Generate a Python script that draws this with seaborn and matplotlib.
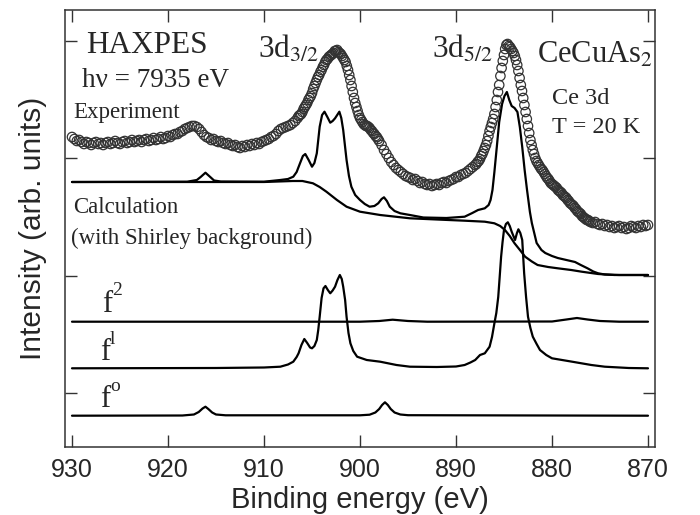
import numpy as np
import pandas as pd
import matplotlib
matplotlib.use("Agg")
import matplotlib.pyplot as plt
import seaborn as sns

# ---------------- data (binding energy in eV, intensity in arb. units) ----------------
# Experiment: 0.25 eV sampling, 0.125 eV on the steep peak flanks
exp_energy = np.concatenate([
    np.linspace(930.0, 906.5, 95),
    np.linspace(906.375, 898.0, 68),
    np.linspace(897.75, 888.0, 40),
    np.linspace(887.875, 876.0, 96),
    np.linspace(875.75, 870.0, 24),
])
exp_intensity = [
    # 930.00 -> 906.50
    310, 308, 306, 307, 305, 303, 305, 304, 302, 304, 305, 303, 304, 302, 304, 305, 303, 304, 306, 304,
    303, 305, 306, 304, 305, 307, 305, 306, 307, 305, 307, 308, 306, 307, 309, 307, 308, 310, 308, 309,
    311, 310, 312, 313, 313, 315, 316, 318, 319, 320, 321, 321, 320, 318, 315, 312, 310, 309, 307, 308,
    306, 305, 306, 304, 303, 304, 302, 301, 302, 300, 299, 301, 300, 302, 301, 303, 302, 304, 303, 305,
    306, 307, 308, 310, 311, 313, 316, 318, 319, 320, 321, 322, 324, 326, 329,
    # 906.375 -> 898.0
    331, 332, 333, 335, 338, 340, 342, 344, 347, 349, 351, 354, 358, 361, 364, 367, 370, 372, 375, 377,
    380, 382, 385, 387, 388, 390, 391, 392, 393, 394, 396, 396, 397, 395, 394, 393, 391, 389, 387, 385,
    381, 377, 372, 367, 361, 355, 349, 344, 340, 336, 332, 329, 327, 325, 323, 322, 321, 321, 320, 319,
    317, 316, 314, 313, 311, 310, 308, 306,
    # 897.75 -> 888.0
    302, 297, 293, 289, 285, 282, 279, 277, 275, 273, 271,
    270, 269, 267, 268, 266, 264, 265, 263, 262, 263, 261, 262, 263, 262, 264, 265, 264, 266, 267, 268,
    270, 270, 272, 273, 274, 276, 278, 280, 282,
    # 887.875 -> 876.0
    283, 285, 286, 288, 291, 293, 296, 299, 302, 306, 311, 316, 320, 324, 328, 333, 340, 347, 355, 362,
    371, 379, 386, 392, 398, 402, 403, 401, 400, 398, 396, 394, 391, 387, 382, 376, 369, 362, 356, 349,
    342, 335, 328, 321, 314, 307, 302, 297, 293, 289, 286, 284, 282, 280, 278, 277, 275, 273, 271, 269,
    268, 266, 264, 263, 262, 261, 260, 259, 257, 256, 255, 254, 252, 251, 250, 249, 247, 246, 244, 243,
    242, 241, 239, 238, 236, 235, 234, 233, 231, 230, 229, 228, 227, 227, 226, 225,
    # 875.75 -> 870.0
    224, 225, 223, 222, 223, 221, 222, 220, 221, 219, 220, 221, 219, 220, 218, 219, 221, 220, 219, 221,
    220, 222, 221, 222,
]

# Calculation (total, with Shirley background)
calc_energy = [930, 918, 917.0, 916.6, 916.1, 915.6, 915.2, 914.5, 910, 908.3, 907.5, 906.95, 906.6,
               906.25, 905.95, 905.7, 905.35, 905.0, 904.75, 904.5, 904.35, 904.2, 903.95, 903.7,
               903.4, 903.1, 902.85, 902.6, 902.15, 901.95, 901.75, 901.4, 901.15, 900.9, 900.5,
               900.0, 899.5, 899.0, 898.5, 898.1, 897.75, 897.5, 897.2, 896.9, 896.4, 895.8, 894.8,
               893.4, 891, 889.1, 888.3, 887.7, 887.0, 886.6, 886.4, 886.2, 886.0, 885.8, 885.5,
               885.2, 884.95, 884.7, 884.45, 884.2, 883.9, 883.6, 883.35, 883.1, 882.85, 882.6,
               882.3, 882.1, 881.6, 881.1, 880.7, 880.0, 879.4, 878.5, 877.6, 877.0, 876.3, 875.7,
               875.2, 874.5, 873, 870]
calc_intensity = [265, 265.3, 267, 270, 274.3, 270, 266.5, 265.5, 265.3, 267, 268, 270.3, 275,
                  283.7, 291, 293, 287, 280.3, 284, 293.7, 307, 320.3, 332, 335.3,
                  330, 324.3, 326, 328.7, 335.3, 329, 317, 287, 271, 260.3, 252,
                  247, 243, 240.3, 241, 243.7, 248, 249.7, 246, 240.3, 236, 233.7, 232,
                  229.5, 229, 230.3, 234, 237, 238.7, 242, 247, 257, 275, 295, 325,
                  343, 351, 355, 347, 341, 339, 335, 320, 300, 277, 257,
                  235, 224, 204, 197, 194, 191, 189, 187, 185, 182, 178.7, 175.5,
                  173.7, 172.5, 172, 172]

# Shirley background
shirley_energy = [930, 910, 907, 906, 904.9, 904.2, 903.5, 902.4, 901.4, 900.0, 897.9, 894.8, 892,
                  889.1, 887.0, 886.0, 885.4, 884.9, 884.4, 883.9, 883.3, 882.8, 882.1, 881.5,
                  880.4, 879.4, 878.0, 876.9, 875.2, 873.5, 870]
shirley_intensity = [265, 265, 266, 266, 263.7, 260, 255.3, 247, 240.3, 235.3, 232, 228.7, 227.5,
                     226.3, 225.3, 223.7, 221, 217, 211, 203.7, 196.5, 190.3, 185.5, 182,
                     180, 178.7, 177, 175.3, 173, 172, 172]

# f^2 component
f2_energy = [930, 900, 898, 896.6, 895, 893, 880, 878.5, 877.4, 876.3, 875, 873, 870]
f2_intensity = [125.3, 125.3, 126, 127.3, 126, 125.3, 125.5, 127.5, 129, 127.5, 126, 125.3, 125.3]

# f^1 component
f1_energy = [930, 915, 910, 908.3, 907.5, 906.95, 906.6, 906.4, 906.1, 905.8, 905.5, 905.2, 905.0,
             904.75, 904.5, 904.35, 904.2, 904.0, 903.8, 903.6, 903.35, 903.1, 902.85, 902.6,
             902.35, 902.1, 901.9, 901.75, 901.55, 901.4, 901.2, 901.0, 900.7, 900.3, 899.3,
             897.9, 896.2, 894.8, 892, 890, 889.1, 888.5, 888.0, 887.5, 887.0, 886.5, 886.25,
             886.0, 885.8, 885.6, 885.45, 885.3, 885.15, 885.0, 884.8, 884.6, 884.4, 884.2,
             883.85, 883.65, 883.5, 883.3, 883.1, 882.9, 882.7, 882.5, 882.25, 882.0, 881.6,
             881.25, 880.6, 880.0, 877.9, 875.9, 874.5, 872, 870]
f1_intensity = [78.7, 79, 79.5, 80.3, 82.5, 85.3, 90, 93.7, 102, 108, 104, 99.5, 98.7,
                101, 107, 117, 130.3, 149, 158.7, 161, 157, 153.7, 156.5, 160.3,
                167, 172, 168, 160.3, 147, 130.3, 114, 103.7, 96, 90.3, 87,
                85.3, 82, 80.3, 80, 80.5, 82, 84.5, 87, 92, 93.7, 100.3, 110,
                123.7, 134, 150, 170, 190.3, 205, 217, 223, 224.7, 221, 215.3,
                207, 214, 217.7, 214, 207, 173.7, 150, 130.3, 119, 110.3, 103,
                97, 92, 88.7, 85.3, 82, 80.3, 79, 78.7]

# f^0 component
f0_energy = [930, 918.5, 917.3, 916.8, 916.4, 916.1, 915.8, 915.4, 915.0, 914, 900, 899, 898.4,
             898.0, 897.7, 897.4, 897.1, 896.8, 896.4, 895.8, 895, 880, 870]
f0_intensity = [31.3, 31.5, 32.5, 35, 38.5, 40.3, 38, 34.5, 32.5, 31.7, 31.7, 32.3, 34.5,
                38, 42, 44.7, 42, 38, 34.5, 32.5, 31.8, 31.5, 31.3]

x_ticks = [930, 920, 910, 900, 890, 880, 870]
y_ticks = [54, 171.5, 289, 406]

# ---------------- plotting ----------------
sns.set_theme(style="ticks")
plt.rcParams["font.family"] = ["Liberation Sans", "DejaVu Sans"]
plt.rcParams["mathtext.fontset"] = "stix"

fig = plt.figure(figsize=(7.0, 5.15), dpi=100)
ax = fig.add_axes([65 / 700, 1 - 447 / 515, 590 / 700, 437 / 515])

exp_df = pd.DataFrame({"energy": exp_energy, "intensity": exp_intensity})
sns.scatterplot(data=exp_df, x="energy", y="intensity", ax=ax, marker="o", s=46,
                facecolors="none", edgecolors="#333333", linewidths=0.9, legend=False, zorder=3)

lw = 1.6
for e, i in [(calc_energy, calc_intensity), (shirley_energy, shirley_intensity),
             (f2_energy, f2_intensity), (f1_energy, f1_intensity), (f0_energy, f0_intensity)]:
    df = pd.DataFrame({"energy": e, "intensity": i})
    sns.lineplot(data=df, x="energy", y="intensity", ax=ax, color="black", lw=lw,
                 sort=False, estimator=None, legend=False)

ax.set_xlim(930.73, 869.27)
ax.set_ylim(0, 437)
ax.set_xticks(x_ticks)
ax.set_yticks(y_ticks)
ax.set_yticklabels([])
ax.tick_params(axis="both", direction="in", length=8.5, width=1.0, color="#333333",
               top=True, right=True, labelsize=18, pad=8)
for sp in ax.spines.values():
    sp.set_color("#333333")
    sp.set_linewidth(1.1)

ax.set_xlabel("Binding energy (eV)", fontsize=21, labelpad=3)
ax.set_ylabel("Intensity (arb. units)", fontsize=21.5, labelpad=5)

serif = ["Liberation Serif", "DejaVu Serif"]
ax.text(928.54, 394, "HAXPES", family=serif, fontsize=22.5, ha="left", va="baseline")
ax.text(928.93, 359.7, "h\u03bd = 7935 eV", family=serif, fontsize=19.5, ha="left", va="baseline")
ax.text(910.6, 389, r"3d$_{3/2}$", family=serif, fontsize=22.5, ha="left", va="baseline")
ax.text(892.5, 389, r"3d$_{5/2}$", family=serif, fontsize=22.5, ha="left", va="baseline")
ax.text(881.56, 384, r"CeCuAs$_{2}$", family=serif, fontsize=22, ha="left", va="baseline")
ax.text(880.0, 343, "Ce 3d", family=serif, fontsize=17.5, ha="left", va="baseline")
ax.text(880.0, 314, "T = 20 K", family=serif, fontsize=17.5, ha="left", va="baseline")
ax.text(929.9, 329, "Experiment", family=serif, fontsize=16.5, ha="left", va="baseline")
ax.text(929.9, 234, "Calculation", family=serif, fontsize=16.5, ha="left", va="baseline")
ax.text(930.1, 203, "(with Shirley background)", family=serif, fontsize=16.5, ha="left", va="baseline")

# component labels f^2, f^1, f^o (letter plus raised superscript)
ax.text(926.9, 135, "f", family=serif, fontsize=22, ha="left", va="baseline")
ax.text(925.85, 152, "2", family=serif, fontsize=14, ha="left", va="baseline")
ax.text(927.1, 87, "f", family=serif, fontsize=22, ha="left", va="baseline")
ax.text(926.05, 103, "l", family=serif, fontsize=14, ha="left", va="baseline")
ax.text(927.1, 40, "f", family=serif, fontsize=22, ha="left", va="baseline")
ax.text(926.05, 56, "o", family=serif, fontsize=14, ha="left", va="baseline")

fig.savefig("out.png", dpi=100)
